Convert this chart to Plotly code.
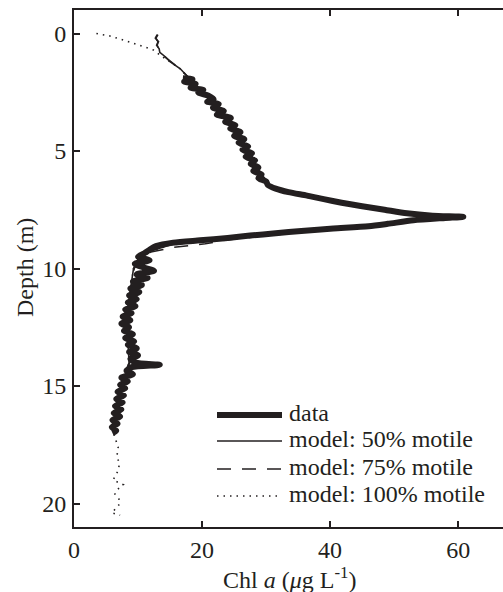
import plotly.graph_objects as go

# ---------------- data ----------------
data_depth = [1.9, 1.95, 2.05, 2.15, 2.3, 2.4, 2.5, 2.65, 2.8, 2.9, 3.0, 3.15, 3.3, 3.45,
              3.6, 3.75, 3.9, 4.05, 4.2, 4.35, 4.5, 4.65, 4.8, 4.95, 5.1, 5.25, 5.4, 5.55,
              5.7, 5.85, 6.0, 6.15, 6.3, 6.45, 6.6, 6.75, 6.9, 7.05, 7.2, 7.35, 7.5, 7.65,
              7.75, 7.8, 7.85, 7.95, 8.1, 8.2, 8.3, 8.4, 8.5, 8.6, 8.7, 8.8, 8.9, 9.05,
              9.2, 9.35, 9.5, 9.65, 9.8, 9.95, 10.1, 10.25, 10.4, 10.55, 10.7, 10.85, 11.0,
              11.15, 11.3, 11.45, 11.6, 11.75, 11.9, 12.05, 12.2, 12.35, 12.5, 12.65, 12.8,
              12.95, 13.1, 13.25, 13.4, 13.55, 13.7, 13.85, 14.0, 14.1, 14.2, 14.35, 14.5,
              14.65, 14.8, 14.95, 15.1, 15.25, 15.4, 15.55, 15.7, 15.85, 16.0, 16.15, 16.3,
              16.45, 16.6, 16.75, 16.9, 17.0]
data_chl = [17.0, 18.5, 17.2, 19.0, 18.2, 20.2, 19.4, 21.0, 21.8, 20.8, 22.6, 21.7, 23.4, 22.3,
            24.5, 23.6, 25.2, 24.4, 26.0, 25.0, 26.6, 25.7, 27.2, 26.3, 27.8, 26.8, 28.3, 27.6,
            28.8, 28.0, 29.3, 28.8, 30.0, 30.3, 31.5, 33.5, 36.4, 39.0, 41.8, 45.0, 48.5, 52.0,
            56.0, 60.8, 58.0, 53.0, 49.0, 46.0, 40.5, 35.5, 31.5, 27.5, 24.0, 19.7, 15.5, 12.8,
            11.8, 11.0, 10.0, 11.8, 9.5, 10.8, 12.5, 9.8, 11.5, 9.2, 10.6, 8.8, 10.2,
            8.6, 9.8, 8.4, 9.6, 8.0, 9.0, 7.6, 8.8, 7.4, 8.6, 7.8, 9.2,
            8.0, 9.4, 8.4, 9.8, 8.6, 10.0, 8.8, 9.6, 13.4, 9.0, 8.2, 9.2,
            7.4, 8.4, 7.2, 8.0, 6.8, 7.8, 6.6, 7.6, 6.4, 7.4, 6.2, 7.2,
            6.0, 6.8, 5.9, 6.6, 6.0]

m50_depth = [0.05, 0.2, 0.35, 0.5, 0.65, 0.8, 1.0, 1.2, 1.5, 2.0, 2.5, 3.0, 3.5, 4.0, 4.5,
             5.0, 5.5, 6.0, 6.5, 6.8, 7.0, 7.2, 7.4, 7.6, 7.75, 7.8, 7.9, 8.0, 8.2, 8.4,
             8.6, 8.8, 9.0, 9.3, 9.6, 10.0, 10.5, 11.0, 12.0, 13.0, 14.0, 15.0, 16.0, 17.0]
m50_chl = [13.0, 12.7, 13.2, 12.9, 13.3, 13.4, 14.3, 15.0, 16.6, 18.3, 20.0, 22.0, 23.6, 25.0, 26.2,
           27.3, 28.2, 29.2, 30.6, 33.5, 37.0, 41.5, 46.0, 51.5, 57.0, 60.0, 55.0, 51.5, 45.0, 36.0,
           28.0, 20.5, 15.0, 11.5, 10.0, 9.3, 9.0, 8.7, 8.2, 8.4, 8.6, 7.4, 6.8, 6.2]

m75_depth = [0.05, 0.2, 0.35, 0.5, 0.65, 0.8, 1.0, 1.2, 1.5, 2.0, 2.5, 3.0, 3.5, 4.0, 4.5,
             5.0, 5.5, 6.0, 6.5, 6.8, 7.0, 7.2, 7.4, 7.6, 7.75, 7.8, 7.9, 8.0, 8.2, 8.4,
             8.6, 8.8, 8.95, 9.1, 9.3, 9.6, 10.0, 10.5, 11.0, 12.0, 13.0, 14.0, 15.0, 16.0, 17.0]
m75_chl = [13.1, 12.8, 13.1, 13.0, 13.2, 13.5, 14.2, 15.1, 16.5, 18.4, 20.1, 21.9, 23.7, 25.1, 26.3,
           27.4, 28.3, 29.3, 30.8, 33.8, 37.3, 41.8, 46.5, 52.0, 57.5, 59.5, 55.5, 52.5, 46.5, 38.0,
           30.0, 23.5, 20.5, 15.5, 12.0, 10.3, 9.4, 9.1, 8.8, 8.3, 8.5, 8.7, 7.5, 6.9, 6.3]

m100_depth = [0.0, 0.1, 0.3, 0.5, 0.7, 0.95, 1.2, 1.5, 2.0, 2.5, 3.0, 3.5, 4.0, 4.5,
              5.0, 5.5, 6.0, 6.5, 6.8, 7.0, 7.2, 7.4, 7.6, 7.75, 7.8, 7.9, 8.0, 8.2, 8.4,
              8.6, 8.8, 9.0, 9.3, 9.6, 10.0, 10.5, 11.0, 12.0, 13.0, 14.0, 15.0, 16.0, 17.0,
              17.2, 17.6, 18.0, 18.3, 18.6, 19.0, 19.2, 19.4, 19.6, 19.8, 20.0, 20.2, 20.4, 20.5]
m100_chl = [3.5, 5.5, 8.0, 10.3, 12.4, 13.6, 15.0, 16.6, 18.3, 20.0, 22.0, 23.6, 25.0, 26.2,
            27.3, 28.2, 29.2, 30.6, 33.5, 37.0, 41.5, 46.0, 51.5, 57.0, 60.0, 55.0, 51.5, 45.0, 36.0,
            28.0, 20.5, 15.0, 11.5, 10.0, 9.3, 9.0, 8.7, 8.2, 8.4, 8.6, 7.4, 6.8, 6.2,
            6.4, 6.9, 6.7, 7.1, 6.9, 6.1, 7.7, 6.8, 6.4, 7.0, 7.2, 6.5, 5.9, 7.2]

x_ticks = [0, 20, 40, 60]
y_ticks = [0, 5, 10, 15, 20]
legend_labels = ["data", "model: 50% motile", "model: 75% motile", "model: 100% motile"]

# ---------------- style ----------------
INK = "#231f20"
FONT = "Liberation Serif"
FS = 24
W, H = 503, 592
ML, MR, MT, MB = 74, 0, 10, 65
PW, PH = W - ML - MR, H - MT - MB

dot_dash = "1.5px,5px"
long_dash = "14px,11px"

fig = go.Figure()
fig.add_trace(go.Scatter(x=m100_chl, y=m100_depth, mode="lines", name=legend_labels[3],
                         line=dict(color=INK, width=1.6, dash=dot_dash)))
fig.add_trace(go.Scatter(x=m75_chl, y=m75_depth, mode="lines", name=legend_labels[2],
                         line=dict(color=INK, width=1.6, dash=long_dash)))
fig.add_trace(go.Scatter(x=m50_chl, y=m50_depth, mode="lines", name=legend_labels[1],
                         line=dict(color=INK, width=1.6)))
fig.add_trace(go.Scatter(x=data_chl, y=data_depth, mode="lines", name=legend_labels[0],
                         line=dict(color=INK, width=6, shape="spline", smoothing=0.7)))

axis_common = dict(showgrid=False, zeroline=False, ticks="inside", ticklen=6, tickwidth=2,
                   tickcolor=INK, linecolor=INK, linewidth=2, showline=True,
                   tickfont=dict(family=FONT, size=FS, color=INK))

fig.update_layout(
    width=W, height=H, margin=dict(l=ML, r=MR, t=MT, b=MB, pad=0),
    paper_bgcolor="white", plot_bgcolor="white", showlegend=False,
    font=dict(family=FONT, color=INK),
    xaxis=dict(range=[0, 67], tickvals=x_ticks, mirror="ticks", ticklabelstandoff=0,
               **axis_common),
    yaxis=dict(range=[21, -1], tickvals=y_ticks, ticklabelstandoff=1, **axis_common),
    yaxis2=dict(range=[21, -1], tickvals=y_ticks, overlaying="y", side="right",
                showticklabels=False, showgrid=False, zeroline=False, showline=False,
                ticks="inside", ticklen=6, tickwidth=2, tickcolor=INK),
)

def px_x(px):
    return (px - ML) / PW

def px_y(py):
    return (H - MB - py) / PH

# manual legend (line samples + labels)
leg_rows = [415, 441, 469, 496]
leg_styles = [dict(width=6), dict(width=1.6), dict(width=1.6, dash="dash"), dict(width=1.6, dash="dot")]
for lbl, row, st in zip(legend_labels, leg_rows, leg_styles):
    fig.add_shape(type="line", xref="paper", yref="paper",
                  x0=px_x(217), x1=px_x(282), y0=px_y(row), y1=px_y(row),
                  line=dict(color=INK, width=st["width"],
                            dash={"dash": long_dash, "dot": dot_dash}.get(st.get("dash"), "solid")))
    fig.add_annotation(text=lbl, xref="paper", yref="paper", x=px_x(287), y=px_y(row - 2),
                       xanchor="left", yanchor="middle", showarrow=False,
                       font=dict(family=FONT, size=FS, color=INK))

# axis titles
fig.add_annotation(text="Depth (m)", xref="paper", yref="paper", x=px_x(25), y=px_y(268),
                   textangle=-90, xanchor="center", yanchor="middle", showarrow=False,
                   font=dict(family=FONT, size=FS, color=INK))
fig.add_annotation(text="Chl <i>a</i> (<i>μ</i>g L<sup>-1</sup>)", xref="paper", yref="paper",
                   x=px_x(289), y=px_y(578), xanchor="center", yanchor="middle", showarrow=False,
                   font=dict(family=FONT, size=FS, color=INK))

fig.write_html("out.html")
